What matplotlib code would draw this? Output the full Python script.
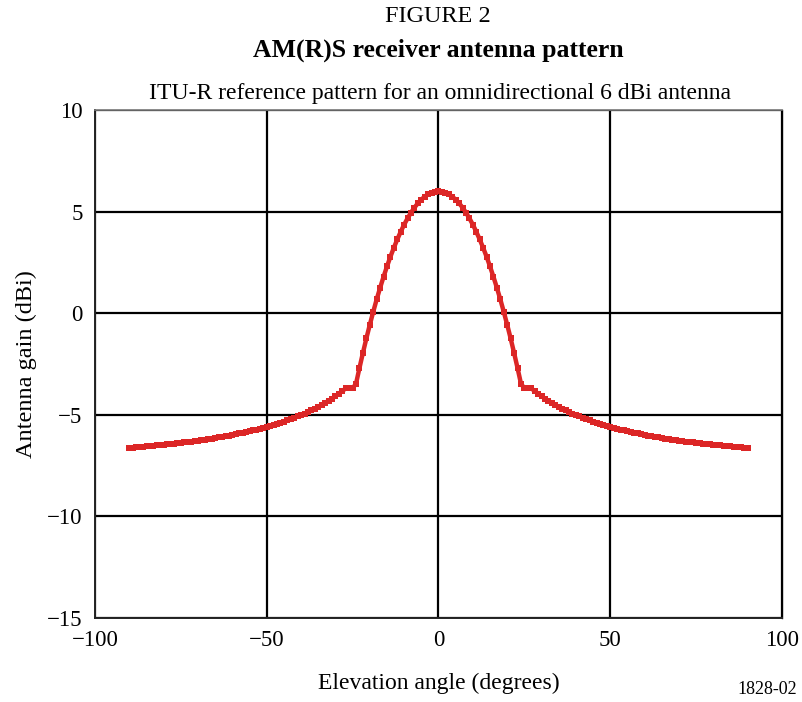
import matplotlib
matplotlib.use('Agg')
import matplotlib.pyplot as plt

# Elevation angle (degrees), one point per degree, -90 .. 90
angles = list(range(-90, 91))

# Antenna gain (dBi)
gain = [
    -6.63, -6.62, -6.60, -6.59, -6.57, -6.56, -6.54, -6.53, -6.51, -6.49,
    -6.48, -6.46, -6.44, -6.42, -6.40, -6.38, -6.36, -6.34, -6.32, -6.29,
    -6.27, -6.24, -6.22, -6.19, -6.17, -6.14, -6.11, -6.08, -6.05, -6.02,
    -5.99, -5.96, -5.92, -5.89, -5.85, -5.81, -5.77, -5.73, -5.69, -5.64,
    -5.60, -5.55, -5.50, -5.45, -5.39, -5.33, -5.28, -5.21, -5.15, -5.08,
    -5.01, -4.94, -4.86, -4.78, -4.69, -4.61, -4.51, -4.41, -4.31, -4.20,
    -4.08, -3.96, -3.83, -3.70, -3.70, -3.70, -3.46, -2.69, -1.95, -1.24,
    -0.57, 0.07, 0.68, 1.25, 1.79, 2.30, 2.78, 3.22, 3.63, 4.01,
    4.36, 4.67, 4.95, 5.20, 5.41, 5.59, 5.74, 5.85, 5.93, 5.98,
    6.00,
    5.98, 5.93, 5.85, 5.74, 5.59, 5.41, 5.20, 4.95, 4.67, 4.36,
    4.01, 3.63, 3.22, 2.78, 2.30, 1.79, 1.25, 0.68, 0.07, -0.57,
    -1.24, -1.95, -2.69, -3.46, -3.70, -3.70, -3.70, -3.83, -3.96, -4.08,
    -4.20, -4.31, -4.41, -4.51, -4.61, -4.69, -4.78, -4.86, -4.94, -5.01,
    -5.08, -5.15, -5.21, -5.28, -5.33, -5.39, -5.45, -5.50, -5.55, -5.60,
    -5.64, -5.69, -5.73, -5.77, -5.81, -5.85, -5.89, -5.92, -5.96, -5.99,
    -6.02, -6.05, -6.08, -6.11, -6.14, -6.17, -6.19, -6.22, -6.24, -6.27,
    -6.29, -6.32, -6.34, -6.36, -6.38, -6.40, -6.42, -6.44, -6.46, -6.48,
    -6.49, -6.51, -6.53, -6.54, -6.56, -6.57, -6.59, -6.60, -6.62, -6.63,
]

x_ticks = [-100, -50, 0, 50, 100]
y_ticks = [-15, -10, -5, 0, 5, 10]

plt.rcParams['font.family'] = ['Liberation Serif', 'DejaVu Serif']
plt.rcParams['axes.unicode_minus'] = True

fig = plt.figure(figsize=(8.03, 7.02), dpi=100)
ax = fig.add_axes([95 / 803, 1 - 618 / 702, 687 / 803, 508 / 702])

ax.plot(angles, gain, color='#dc2626', linewidth=3.2, marker='s', markersize=5,
        markeredgewidth=0, zorder=3)

ax.set_xlim(-100, 100)
ax.set_ylim(-15, 10)
ax.set_xticks(x_ticks)
ax.set_yticks(y_ticks)
ax.tick_params(length=0, labelsize=16.5)
ax.tick_params(axis='y', pad=9)
ax.tick_params(axis='x', pad=9)
ax.grid(True, color='black', linewidth=1.6)
ax.set_axisbelow(True)

for side in ['left', 'bottom']:
    ax.spines[side].set_color('#222222')
    ax.spines[side].set_linewidth(1.4)
ax.spines['top'].set_color('#777777')
ax.spines['top'].set_linewidth(1.2)
ax.spines['right'].set_color('black')
ax.spines['right'].set_linewidth(1.0)

ax.set_xlabel('Elevation angle (degrees)', fontsize=17, labelpad=15)
ax.set_ylabel('Antenna gain (dBi)', fontsize=17.5, labelpad=7)

fig.text(438 / 803, 1 - 17 / 702, 'FIGURE 2', ha='center', va='center', fontsize=17.5)
fig.text(438 / 803, 1 - 50 / 702, 'AM(R)S receiver antenna pattern', ha='center',
         va='center', fontsize=18.5, fontweight='bold')
fig.text(440 / 803, 1 - 94 / 702, 'ITU-R reference pattern for an omnidirectional 6 dBi antenna',
         ha='center', va='center', fontsize=17)
fig.text(797 / 803, 1 - 690 / 702, '1828-02', ha='right', va='center', fontsize=13)

fig.savefig('out.png', dpi=100)
